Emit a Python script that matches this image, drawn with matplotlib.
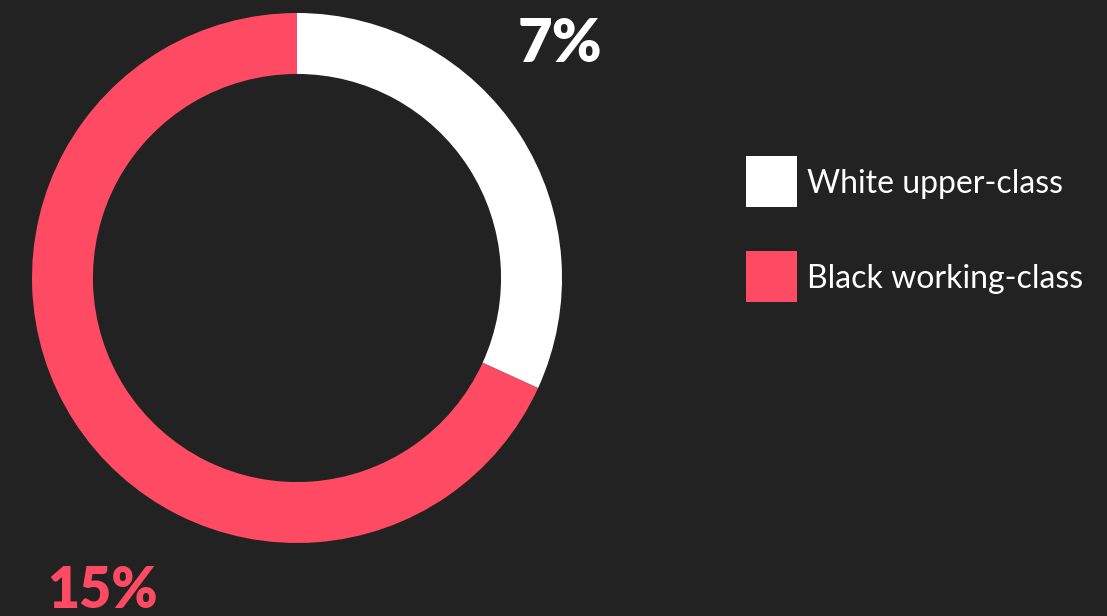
import matplotlib
matplotlib.use("Agg")
import matplotlib.pyplot as plt
from matplotlib.patches import Rectangle

categories = ["White upper-class", "Black working-class"]
values = [7, 15]
labels = ["7%", "15%"]
colors = ["#FFFFFF", "#FF4A63"]
bg = "#222222"

W, H = 1107, 616
fig = plt.figure(figsize=(W / 100, H / 100), dpi=100, facecolor=bg)

cx, cy, r = 297, 278, 265
ax = fig.add_axes([(cx - r) / W, (H - cy - r) / H, 2 * r / W, 2 * r / H])
ax.set_facecolor(bg)
ax.pie(values, colors=colors, startangle=90, counterclock=False,
       radius=1.0, wedgeprops=dict(width=0.23, edgecolor="none"))
ax.set_xlim(-1, 1)
ax.set_ylim(-1, 1)
ax.set_aspect("equal")
ax.axis("off")

font = "Lato"
# value labels
fig.text(560 / W, 1 - 62 / H, labels[0], color=colors[0], fontsize=43,
         fontweight="heavy", family=font, ha="center", va="baseline")
fig.text(103 / W, 1 - 608 / H, labels[1], color=colors[1], fontsize=40,
         fontweight="heavy", family=font, ha="center", va="baseline")

# legend
leg_y = [181.5, 276]
for i, (cat, col) in enumerate(zip(categories, colors)):
    y = leg_y[i]
    fig.patches.append(Rectangle((746 / W, 1 - (y + 25.5) / H), 51 / W, 51 / H,
                                 transform=fig.transFigure, facecolor=col,
                                 edgecolor="none"))
    fig.text(807 / W, 1 - (y + 11.5) / H, cat, color="white", fontsize=23,
             family=font, ha="left", va="baseline")

fig.savefig("out.png", dpi=100, facecolor=bg)
